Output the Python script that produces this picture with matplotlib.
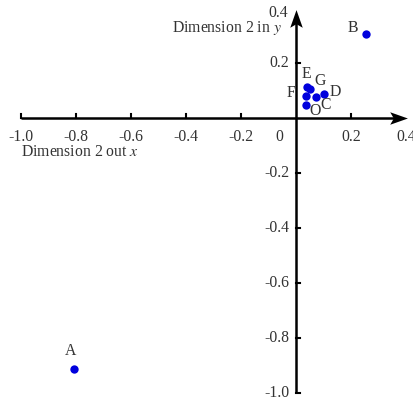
import matplotlib
matplotlib.use("Agg")
import matplotlib.pyplot as plt
from matplotlib.path import Path

# data
names = ["A", "B", "C", "D", "E", "F", "G", "O"]
xs = [-0.807, 0.255, 0.072, 0.102, 0.039, 0.035, 0.051, 0.035]
ys = [-0.913, 0.305, 0.075, 0.087, 0.112, 0.080, 0.104, 0.046]
# label offsets in pixels, per point
offsets = {"A": (-4, 18), "B": (-13, 6), "C": (10, -8), "D": (11, 2),
           "E": (0, 13), "F": (-15, 3), "G": (10, 8), "O": (9, -6)}

xticks = [-1.0, -0.8, -0.6, -0.4, -0.2, 0.2]
xlabels = ["-1.0", "-0.8", "-0.6", "-0.4", "-0.2", "0.2"]
yticks = [0.2, -0.2, -0.4, -0.6, -0.8, -1.0]
ylabels = ["0.2", "-0.2", "-0.4", "-0.6", "-0.8", "-1.0"]

plt.rcParams["font.family"] = ["Liberation Serif", "DejaVu Serif"]
plt.rcParams["mathtext.fontset"] = "stix"
txt = "#333333"
fs = 11.3
px = 0.72  # pixels -> points at dpi 100

fig = plt.figure(figsize=(4.14, 4.03), dpi=100)
ax = fig.add_axes([0, 0, 1, 1])
ax.set_xlim(-1.0764, 0.4291)
ax.set_ylim(-1.0364, 0.4291)
ax.axis("off")

# axes lines + stealth-ish arrow heads
stealth = Path([(1, 0), (-0.7, 0.6), (-0.35, 0), (-0.7, -0.6), (1, 0)],
               [Path.MOVETO, Path.LINETO, Path.LINETO, Path.LINETO, Path.CLOSEPOLY])
up = stealth.transformed(matplotlib.transforms.Affine2D().rotate_deg(90))
ax.plot([-1.0, 0.36], [0, 0], color="black", lw=1.8, solid_capstyle="butt")
ax.plot([0, 0], [-1.0, 0.35], color="black", lw=1.8, solid_capstyle="butt")
ax.plot([0.369], [0], marker=stealth, ms=15, color="black", mec="none")
ax.plot([0], [0.358], marker=up, ms=15, color="black", mec="none")

# ticks
for t, l in zip(xticks, xlabels):
    ax.plot([t, t], [0, 0.014], color="black", lw=1.5)
    ax.annotate(l, (t, 0), xytext=(0, -19 * px), textcoords="offset points",
                ha="center", va="center", fontsize=fs, color=txt)
ax.annotate("0", (0, 0), xytext=(-17 * px, -19 * px), textcoords="offset points",
            ha="center", va="center", fontsize=fs, color=txt)
ax.annotate("0.4", (0.4, 0), xytext=(0, -19 * px), textcoords="offset points",
            ha="center", va="center", fontsize=fs, color=txt)
for t, l in zip(yticks, ylabels):
    ax.plot([0, 0.014], [t, t], color="black", lw=1.5)
    ax.annotate(l, (0, t), xytext=(-7 * px, 0), textcoords="offset points",
                ha="right", va="center", fontsize=fs, color=txt)
ax.annotate("0.4", (0, 0.4), xytext=(-8 * px, -5 * px), textcoords="offset points",
            ha="right", va="center", fontsize=fs, color=txt)

ax.text(-1.0, -0.124, r"Dimension 2 out $x$", ha="left", va="center",
        fontsize=fs, color=txt)
ax.text(-0.05, 0.327, r"Dimension 2 in $y$", ha="right", va="center",
        fontsize=fs, color=txt)

# points
ax.plot(xs, ys, "o", color="#0000dd", ms=6, mec="none")
for n, x, y in zip(names, xs, ys):
    dx, dy = offsets[n]
    ax.annotate(n, (x, y), xytext=(dx * px, dy * px), textcoords="offset points",
                ha="center", va="center", fontsize=fs, color=txt)

fig.savefig("out.png", dpi=100)
